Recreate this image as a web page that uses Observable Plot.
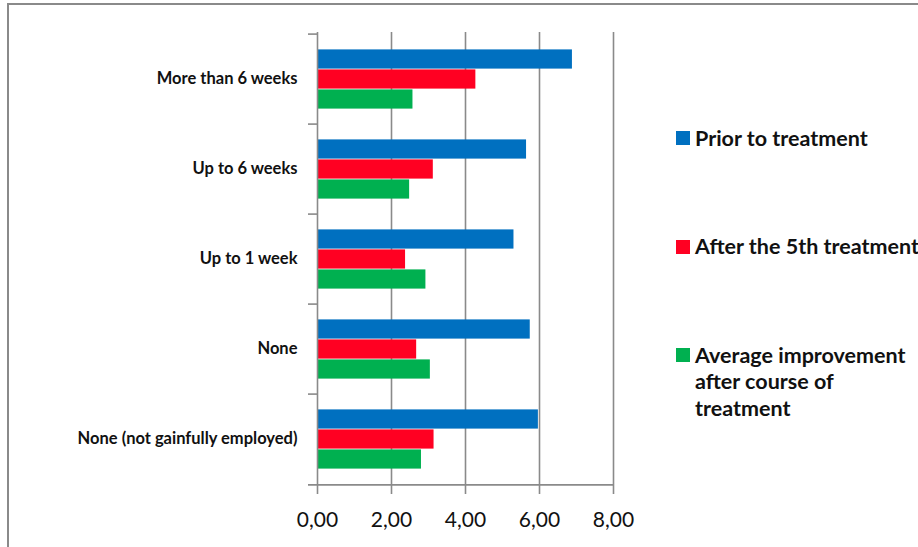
<!DOCTYPE html>
<html>
<head>
<meta charset="utf-8">
<script src="https://cdn.jsdelivr.net/npm/d3@7"></script>
<script src="https://cdn.jsdelivr.net/npm/@observablehq/plot@0.6"></script>
<style>
  html, body { margin: 0; padding: 0; background: #fff; }
  #wrap { position: relative; width: 918px; height: 547px; overflow: hidden; font-family: Lato, "Open Sans", sans-serif; }
  #frame { position: absolute; left: 7px; top: 3px; width: 1000px; height: 700px; border-left: 2px solid #8a8a8a; border-top: 2px solid #8a8a8a; }
  #chart { position: absolute; left: 0; top: 0; }
  .leg { position: absolute; left: 676px; font-weight: bold; font-size: 21.5px; line-height: 26.7px; color: #111; white-space: nowrap; }
  .sw { position: absolute; left: 0; width: 14px; height: 14px; top: 6.5px; }
  .lt { position: absolute; left: 19px; top: 0; }
</style>
</head>
<body>
<div id="wrap">
  <div id="frame"></div>
  <div id="chart"></div>
  <div id="legend"></div>
</div>
<script>
const categories = ["More than 6 weeks", "Up to 6 weeks", "Up to 1 week", "None", "None (not gainfully employed)"];
const series = ["Prior to treatment", "After the 5th treatment", "Average improvement after course of treatment"];
const legendLines = [["Prior to treatment"], ["After the 5th treatment"], ["Average improvement", "after course of", "treatment"]];
const colors = ["#0070C0", "#FF0022", "#00B050"];
const priorValues = [6.89, 5.65, 5.31, 5.75, 5.97];
const after5Values = [4.28, 3.13, 2.38, 2.68, 3.15];
const improvementValues = [2.58, 2.49, 2.93, 3.05, 2.81];
const xTicks = [0, 2, 4, 6, 8];

const valueSets = [priorValues, after5Values, improvementValues];
const rows = [];
series.forEach((s, si) => categories.forEach((c, ci) => rows.push({category: c, series: s, value: valueSets[si][ci]})));

const W = 918, H = 547;
const mTop = 32, mBottom = 61, mLeft = 317, mRight = 305;
const step = (H - mTop - mBottom) / categories.length;
const barH = 20;
const pad = (step - 3 * barH) / 2;
const tickLen = 9 / ((W - mLeft - mRight) / 8);

const barMarks = series.map((s, si) => Plot.barX(rows.filter(d => d.series === s), {
  y: "category", x: "value", fill: "series",
  insetTop: pad + si * barH, insetBottom: step - pad - (si + 1) * barH
}));

const chart = Plot.plot({
  width: W, height: H,
  marginTop: mTop, marginBottom: mBottom, marginLeft: mLeft, marginRight: mRight,
  style: {fontFamily: "Lato, sans-serif", background: "transparent"},
  x: {domain: [0, 8], ticks: xTicks},
  y: {domain: categories, padding: 0},
  color: {domain: series, range: colors},
  marks: [
    Plot.ruleX([2, 4, 6, 8], {stroke: "#8a8a8a", strokeWidth: 1.6}),
    ...barMarks,
    Plot.ruleX([0], {stroke: "#8a8a8a", strokeWidth: 1.6}),
    Plot.ruleY(categories, {y: d => d, x1: -tickLen, x2: 0, dy: -step / 2, stroke: "#8a8a8a", strokeWidth: 1.6}),
    Plot.ruleY([categories[categories.length - 1]], {y: d => d, x1: -tickLen, x2: 8, dy: step / 2, stroke: "#8a8a8a", strokeWidth: 1.6}),
    Plot.axisX({ticks: xTicks, tickSize: 8, tickPadding: 18, stroke: "#8a8a8a", strokeWidth: 1.6, fill: "#111", fontSize: 21,
      tickFormat: d => d3.format(".2f")(d).replace(".", ","), label: null}),
    Plot.axisY({tickSize: 0, tickPadding: 20, fontSize: 16.5, fontWeight: "bold", fill: "#111", dy: -1, label: null})
  ]
});
document.getElementById("chart").appendChild(chart);

const legendTops = [124.7, 233.3, 341.7];
const legend = document.getElementById("legend");
legendLines.forEach((lines, i) => {
  const div = document.createElement("div");
  div.className = "leg";
  div.style.top = legendTops[i] + "px";
  const sw = document.createElement("div");
  sw.className = "sw";
  sw.style.background = colors[i];
  const t = document.createElement("div");
  t.className = "lt";
  t.innerHTML = lines.join("<br>");
  div.appendChild(sw);
  div.appendChild(t);
  legend.appendChild(div);
});
</script>
</body>
</html>
